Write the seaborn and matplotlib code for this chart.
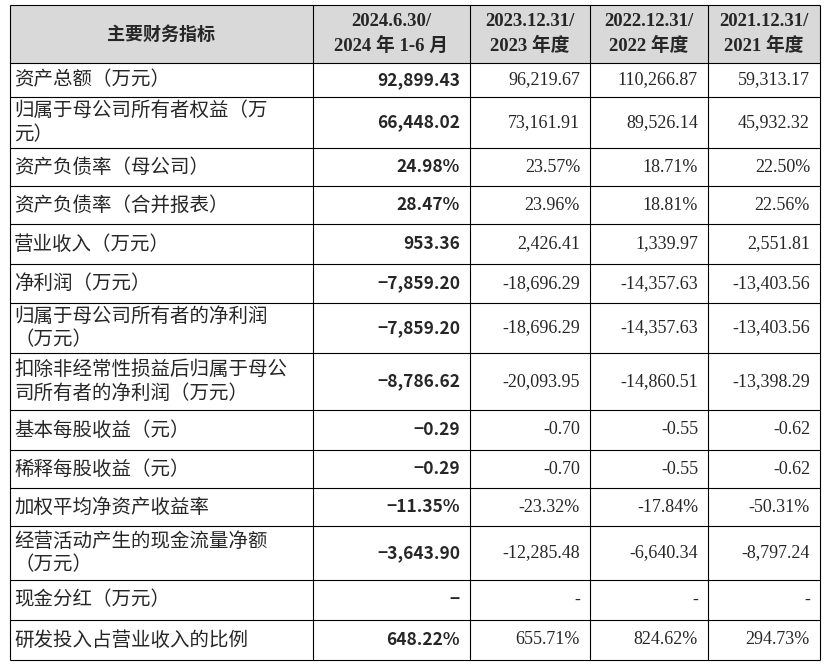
import matplotlib
matplotlib.use('Agg')
import matplotlib.pyplot as plt
import seaborn as sns

sns.set_theme(style='white')
plt.rcParams['font.family'] = ['Noto Sans CJK SC', 'DejaVu Sans']

# Table content
headers = ['主要财务指标', '2024.6.30/\n2024 年 1-6 月', '2023.12.31/\n2023 年度',
           '2022.12.31/\n2022 年度', '2021.12.31/\n2021 年度']
row_labels = ['资产总额（万元）', '归属于母公司所有者权益（万\n元）', '资产负债率（母公司）',
              '资产负债率（合并报表）', '营业收入（万元）', '净利润（万元）',
              '归属于母公司所有者的净利润\n（万元）', '扣除非经常性损益后归属于母公\n司所有者的净利润（万元）',
              '基本每股收益（元）', '稀释每股收益（元）', '加权平均净资产收益率',
              '经营活动产生的现金流量净额\n（万元）', '现金分红（万元）', '研发投入占营业收入的比例']
col_2024 = ['92,899.43', '66,448.02', '24.98%', '28.47%', '953.36', '−7,859.20', '−7,859.20',
            '−8,786.62', '−0.29', '−0.29', '−11.35%', '−3,643.90', '−', '648.22%']
col_2023 = ['96,219.67', '73,161.91', '23.57%', '23.96%', '2,426.41', '-18,696.29', '-18,696.29',
            '-20,093.95', '-0.70', '-0.70', '-23.32%', '-12,285.48', '-', '655.71%']
col_2022 = ['110,266.87', '89,526.14', '18.71%', '18.81%', '1,339.97', '-14,357.63', '-14,357.63',
            '-14,860.51', '-0.55', '-0.55', '-17.84%', '-6,640.34', '-', '824.62%']
col_2021 = ['59,313.17', '45,932.32', '22.50%', '22.56%', '2,551.81', '-13,403.56', '-13,403.56',
            '-13,398.29', '-0.62', '-0.62', '-50.31%', '-8,797.24', '-', '294.73%']

col_edges = [10, 313, 470, 590, 708, 820]
row_edges = [5, 63, 97, 148, 186, 224, 264, 303, 353, 410, 450, 488, 526, 580, 620, 660]


def draw_table():
    fig = plt.figure(figsize=(8.31, 6.68), dpi=100)
    ax = fig.add_axes([0, 0, 1, 1])
    ax.set_xlim(0, 831)
    ax.set_ylim(668, 0)
    ax.axis('off')

    # header background
    ax.fill_between([col_edges[0], col_edges[-1]], row_edges[0], row_edges[1], color='#d9d9d9', lw=0)

    # grid lines
    ax.hlines(row_edges, col_edges[0], col_edges[-1], color='black', lw=0.8)
    ax.vlines(col_edges, row_edges[0], row_edges[-1], color='black', lw=0.8)

    serif = ['Liberation Serif', 'Noto Sans CJK SC']
    bold = ['Noto Sans CJK SC', 'DejaVu Sans']

    # header
    for i, h in enumerate(headers):
        xc = (col_edges[i] + col_edges[i + 1]) / 2
        yc = (row_edges[0] + row_edges[1]) / 2
        ax.text(xc, yc, h, ha='center', va='center', fontsize=13.5 if i else 13, fontweight='bold',
                family=serif if i else bold, linespacing=1.45)

    # body rows
    for r, label in enumerate(row_labels):
        yc = (row_edges[r + 1] + row_edges[r + 2]) / 2
        ax.text(col_edges[0] + 4, yc, label, ha='left', va='center', fontsize=14, linespacing=1.15)
        ax.text(col_edges[2] - 10, yc, col_2024[r], ha='right', va='center',
                fontsize=12.5, fontweight='bold', family=bold)
        for c, col in enumerate([col_2023, col_2022, col_2021]):
            ax.text(col_edges[c + 3] - 10, yc, col[r], ha='right', va='center',
                    fontsize=13, family=serif)

    fig.savefig('out.png', dpi=100, facecolor='white')


if __name__ == '__main__':
    draw_table()
